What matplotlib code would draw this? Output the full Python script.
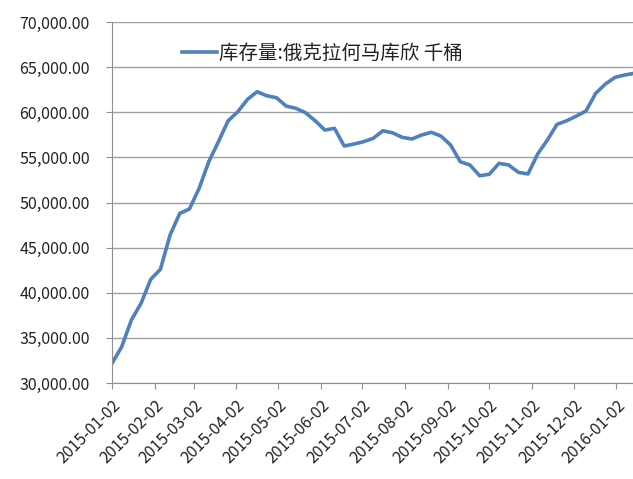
import numpy as np
import pandas as pd
import matplotlib
matplotlib.use("Agg")
import matplotlib.pyplot as plt
import matplotlib.dates as mdates
from matplotlib.ticker import FuncFormatter

plt.rcParams['font.family'] = ['Noto Sans CJK SC', 'DejaVu Sans']

# weekly Cushing, Oklahoma crude stocks (thousand barrels)
dates = pd.date_range("2015-01-02", periods=55, freq="7D")
stocks = [
    32180, 34020, 36980, 38830, 41490, 42600, 46400, 48800, 49280, 51570,
    54520, 56740, 59060, 60060, 61430, 62280, 61830, 61610, 60690, 60440,
    59950, 59060, 58030, 58220, 56260, 56480, 56740, 57110, 57950, 57730,
    57220, 57040, 57480, 57780, 57370, 56370, 54520, 54160, 52970, 53130,
    54340, 54160, 53350, 53160, 55370, 56920, 58660, 59060, 59580, 60140,
    62100, 63130, 63870, 64130, 64320,
]
tick_dates = pd.date_range("2015-01-01", periods=13, freq="MS") + pd.Timedelta(days=1)
series_name = "库存量:俄克拉何马库欣 千桶"

fig = plt.figure(figsize=(6.33, 4.79), dpi=100)
ax = fig.add_axes([0.177, 0.2004, 0.823, 0.7536])

ax.plot(dates, stocks, color="#4F81BD", lw=2.6, label=series_name,
        solid_joinstyle="round")

ax.set_yticks(np.arange(30000, 70001, 5000))
ax.set_ylim(30000, 70000)
ax.yaxis.set_major_formatter(FuncFormatter(lambda v, p: f"{v:,.2f}"))
ax.set_xticks(tick_dates)
ax.set_xlim(pd.Timestamp("2015-01-02"), pd.Timestamp("2016-01-14"))
ax.xaxis.set_major_formatter(mdates.DateFormatter("%Y-%m-%d"))

ax.grid(axis="y", color="#A0A0A0", lw=1)
ax.set_axisbelow(True)
for s in ["top", "right"]:
    ax.spines[s].set_visible(False)
ax.spines["left"].set_color("#909090")
ax.spines["bottom"].set_color("#909090")
ax.tick_params(axis="both", colors="#909090", length=4, labelcolor="#222222",
               labelsize=11.5)
ax.tick_params(axis="y", pad=12)
ax.tick_params(axis="x", pad=6)
plt.setp(ax.get_xticklabels(), rotation=45, ha="right", rotation_mode="anchor")

leg = ax.legend(loc="upper left", bbox_to_anchor=(0.1, 0.99), frameon=False,
                fontsize=14, handlelength=1.8, handletextpad=0.1)
for t in leg.get_texts():
    t.set_color("#222222")

fig.savefig("out.png", dpi=100)
